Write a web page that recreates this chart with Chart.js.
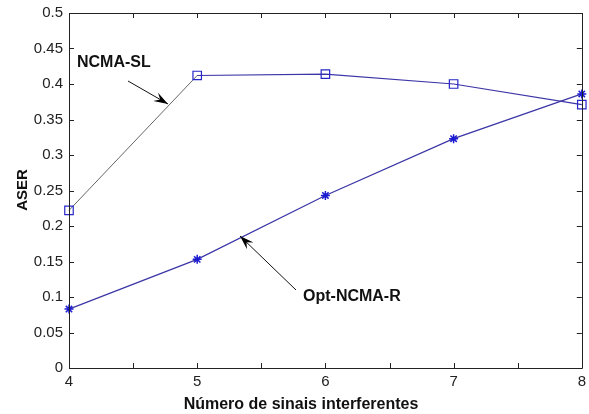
<!DOCTYPE html>
<html>
<head>
<meta charset="utf-8">
<script src="https://cdn.jsdelivr.net/npm/chart.js@4/dist/chart.umd.min.js"></script>
<style>
  html, body { margin: 0; padding: 0; background: #fff; }
  #wrap { width: 589px; height: 414px; position: relative; }
</style>
</head>
<body>
<div id="wrap"><canvas id="c" width="589" height="414"></canvas></div>
<script>
const xValues = [4, 5, 6, 7, 8];
const ncmaSL = [0.222, 0.412, 0.414, 0.400, 0.371];
const optNcmaR = [0.083, 0.153, 0.243, 0.323, 0.386];
const yTicks = [0, 0.05, 0.1, 0.15, 0.2, 0.25, 0.3, 0.35, 0.4, 0.45, 0.5];
const xMinorTicks = [4, 4.5, 5, 5.5, 6, 6.5, 7, 7.5, 8];
const xTitle = 'Número de sinais interferentes';
const yTitle = 'ASER';
const labelSL = 'NCMA-SL';
const labelR = 'Opt-NCMA-R';

const decor = {
  id: 'decor',
  afterDraw(chart) {
    const ctx = chart.ctx;
    const xs = chart.scales.x, ys = chart.scales.y;
    const L = xs.left, R = xs.right, T = ys.top, B = ys.bottom;
    ctx.save();
    ctx.strokeStyle = '#222';
    ctx.lineWidth = 1;
    ctx.beginPath();
    ctx.rect(Math.round(L) + 0.5, Math.round(T) + 0.5, Math.round(R - L), Math.round(B - T));
    ctx.stroke();
    ctx.beginPath();
    yTicks.forEach(v => {
      const y = Math.round(ys.getPixelForValue(v)) + 0.5;
      ctx.moveTo(L, y); ctx.lineTo(L + 5, y);
      ctx.moveTo(R, y); ctx.lineTo(R - 5, y);
    });
    xMinorTicks.forEach(v => {
      const x = Math.round(xs.getPixelForValue(v)) + 0.5;
      ctx.moveTo(x, B); ctx.lineTo(x, B - 5);
      ctx.moveTo(x, T); ctx.lineTo(x, T + 5);
    });
    ctx.stroke();

    ctx.fillStyle = '#111';
    ctx.font = 'bold 16px "Liberation Sans", Arial, sans-serif';
    ctx.textAlign = 'center';
    ctx.textBaseline = 'middle';
    ctx.fillText(xTitle, 301, 405);
    ctx.save();
    ctx.translate(23, 190);
    ctx.rotate(-Math.PI / 2);
    ctx.font = 'bold 15px "Liberation Sans", Arial, sans-serif';
    ctx.fillText(yTitle, 0, 0);
    ctx.restore();

    ctx.font = 'bold 16px "Liberation Sans", Arial, sans-serif';
    ctx.textAlign = 'left';
    ctx.fillText(labelSL, 77, 63);
    ctx.fillText(labelR, 303, 297);

    function arrow(x1, y1, x2, y2) {
      ctx.strokeStyle = '#111';
      ctx.lineWidth = 1;
      ctx.beginPath();
      ctx.moveTo(x1, y1); ctx.lineTo(x2, y2);
      ctx.stroke();
      const a = Math.atan2(y2 - y1, x2 - x1);
      const len = 15, w = 0.32;
      ctx.beginPath();
      ctx.moveTo(x2, y2);
      ctx.lineTo(x2 - len * Math.cos(a - w), y2 - len * Math.sin(a - w));
      ctx.lineTo(x2 - len * 0.6 * Math.cos(a), y2 - len * 0.6 * Math.sin(a));
      ctx.lineTo(x2 - len * Math.cos(a + w), y2 - len * Math.sin(a + w));
      ctx.closePath();
      ctx.fillStyle = '#000';
      ctx.fill();
    }
    arrow(128, 81, 168, 104);
    arrow(296, 290, 240, 236);
    ctx.restore();
  }
};

new Chart(document.getElementById('c'), {
  type: 'line',
  data: {
    datasets: [
      {
        label: labelSL,
        data: xValues.map((x, i) => ({ x, y: ncmaSL[i] })),
        borderColor: '#3b35a6',
        borderWidth: 1.2,
        pointStyle: 'rect',
        pointRadius: 6,
        pointBorderColor: '#2626c8',
        pointBackgroundColor: 'rgba(0,0,0,0)',
        pointBorderWidth: 1.2,
        tension: 0,
        clip: false,
        segment: {
          borderColor: c => c.p0DataIndex === 0 ? '#555555' : undefined,
          borderWidth: c => c.p0DataIndex === 0 ? 0.9 : undefined
        }
      },
      {
        label: labelR,
        data: xValues.map((x, i) => ({ x, y: optNcmaR[i] })),
        borderColor: '#3b35a6',
        borderWidth: 1.2,
        pointStyle: 'star',
        pointRadius: 4.5,
        pointBorderColor: '#1a1ad0',
        pointBackgroundColor: '#1a1ad0',
        pointBorderWidth: 1.5,
        tension: 0,
        clip: false
      }
    ]
  },
  options: {
    responsive: false,
    animation: false,
    layout: { padding: { left: 0, right: 7, top: 13, bottom: 0 } },
    plugins: { legend: { display: false }, tooltip: { enabled: false } },
    scales: {
      x: {
        type: 'linear',
        min: 4, max: 8,
        afterFit(s) { s.height = 46; s.paddingLeft = 0; s.paddingRight = 0; },
        afterBuildTicks(s) { s.ticks = xValues.map(v => ({ value: v })); },
        grid: { display: false, drawTicks: false },
        border: { display: false },
        ticks: {
          color: '#222',
          font: { family: '"Liberation Sans", Arial, sans-serif', size: 15 },
          padding: 5,
          maxRotation: 0,
          callback: v => String(v)
        }
      },
      y: {
        type: 'linear',
        min: 0, max: 0.5,
        afterFit(s) { s.width = 69; s.paddingTop = 0; s.paddingBottom = 0; },
        afterBuildTicks(s) { s.ticks = yTicks.map(v => ({ value: v })); },
        grid: { display: false, drawTicks: false },
        border: { display: false },
        ticks: {
          color: '#222',
          font: { family: '"Liberation Sans", Arial, sans-serif', size: 15 },
          padding: 6,
          callback: v => String(Math.round(v * 100) / 100)
        }
      }
    }
  },
  plugins: [decor]
});
</script>
</body>
</html>
